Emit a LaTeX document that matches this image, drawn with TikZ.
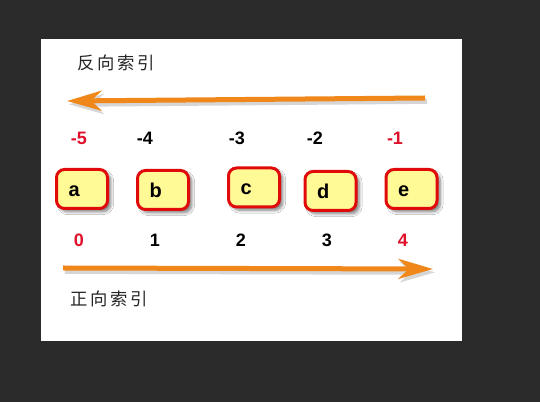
\documentclass[tikz,border=0pt]{standalone}
\usepackage{fontspec}
\setmainfont{Liberation Sans}
\newfontfamily\cjk[LetterSpace=16]{Noto Sans CJK SC}
\usetikzlibrary{arrows.meta,shadows.blur}
\definecolor{bgdark}{HTML}{2B2B2B}
\definecolor{boxfill}{HTML}{FFFA96}
\definecolor{boxred}{HTML}{E00A0A}
\definecolor{numred}{HTML}{E0102A}
\definecolor{arrorange}{HTML}{F0871A}
\tikzset{
  elem/.style={draw=boxred, line width=2.25pt, fill=boxfill, rounded corners=6pt,
    text width=20.25pt, align=left, inner xsep=9pt, minimum height=29.25pt,
    text height=11pt, text depth=0pt,
    font=\fontsize{15}{16}\selectfont\bfseries,
    blur shadow={shadow xshift=2.5pt, shadow yshift=-2.5pt, shadow blur steps=8, shadow blur extra rounding=2pt, shadow opacity=50}},
  idx/.style={font=\fontsize{13.5}{15}\selectfont\bfseries, text=black},
  ridx/.style={idx, text=numred},
  title/.style={font=\cjk\fontsize{13}{14}\selectfont, text=black!85},
  bigarrow/.style={draw=arrorange, line width=3.75pt,
    -{Stealth[length=26pt, width=15pt, inset=8pt]},
    preaction={draw=black!16, line width=3.75pt,
      -{Stealth[length=26pt, width=15pt, inset=8pt]},
      transform canvas={xshift=1.5pt, yshift=-2.5pt}}},
}
\begin{document}
\begin{tikzpicture}[x=0.75pt, y=-0.75pt]
\fill[bgdark] (0,0) rectangle (540,402);
\useasboundingbox (0,0) rectangle (540,402);
\fill[white] (41,39) rectangle (462,341);

\node[title] (rev) at (116,63) {反向索引};
\node[title] (fwd) at (109,299) {正向索引};

\coordinate (revS) at (425,98);
\coordinate (revE) at (67,101);
\draw[bigarrow] (revS) -- (revE);
\coordinate (fwdS) at (63,268);
\coordinate (fwdE) at (433,269);
\draw[bigarrow] (fwdS) -- (fwdE);

\node[ridx] (m5) at (79,138) {-5};
\node[idx]  (m4) at (145,138) {-4};
\node[idx]  (m3) at (237,138) {-3};
\node[idx]  (m2) at (315,138) {-2};
\node[ridx] (m1) at (395,138) {-1};

\node[elem] (a) at (82,189) {a};
\node[elem] (b) at (163,190) {b};
\node[elem] (c) at (254,187.5) {c};
\node[elem] (d) at (330.5,191) {d};
\node[elem] (e) at (411.5,189) {e};

\node[ridx] (p0) at (79,240) {0};
\node[idx]  (p1) at (155,240) {1};
\node[idx]  (p2) at (241,240) {2};
\node[idx]  (p3) at (327,240) {3};
\node[ridx] (p4) at (403,240) {4};
\end{tikzpicture}
\end{document}
